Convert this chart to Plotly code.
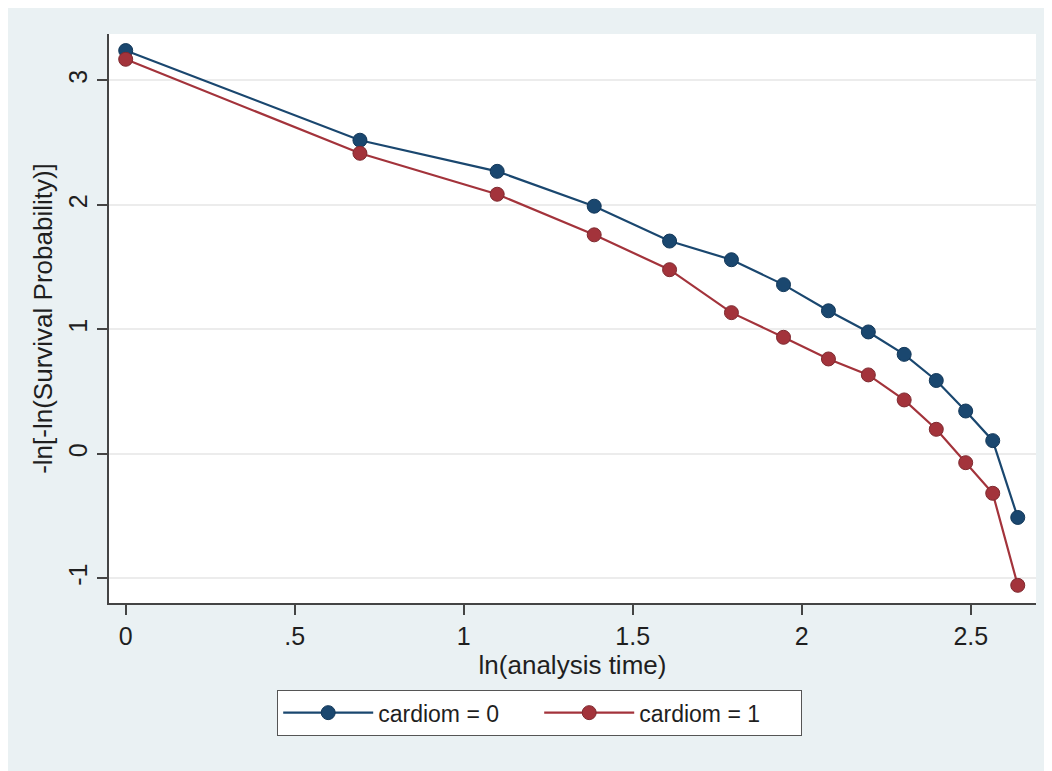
import plotly.graph_objects as go

ln_time = [0.0, 0.693, 1.099, 1.386, 1.609, 1.792, 1.946, 2.079, 2.197, 2.303, 2.398, 2.485, 2.565, 2.639]
cardiom0 = [3.24, 2.52, 2.27, 1.99, 1.71, 1.56, 1.36, 1.15, 0.98, 0.80, 0.59, 0.345, 0.107, -0.51]
cardiom1 = [3.17, 2.415, 2.086, 1.76, 1.48, 1.135, 0.937, 0.763, 0.635, 0.434, 0.198, -0.07, -0.316, -1.055]

series_names = ["cardiom = 0", "cardiom = 1"]
x_ticks = [0, 0.5, 1, 1.5, 2, 2.5]
x_ticklabels = ["0", ".5", "1", "1.5", "2", "2.5"]
y_ticks = [-1, 0, 1, 2, 3]
y_ticklabels = ["-1", "0", "1", "2", "3"]

navy = "#1a476f"
maroon = "#a3333b"
FONT = "Liberation Sans, Arial, sans-serif"
TXT = "#1f1f1f"

fig = go.Figure()
for ys, name, col, edge in [(cardiom0, series_names[0], navy, "#13385a"),
                            (cardiom1, series_names[1], maroon, "#7e2a30")]:
    fig.add_trace(go.Scatter(
        x=ln_time, y=ys, name=name, mode="lines+markers",
        line=dict(color=col, width=2.2),
        marker=dict(color=col, size=14, line=dict(color=edge, width=1)),
    ))

# figure is shown inside the page with an 8px body margin
W, H = 1044, 763
L, R, T, B = 101, 16, 26, 168
pw, ph = W - L - R, H - T - B

def px2paper_x(px):
    return (px - L) / pw

def px2paper_y(py):
    return (H - B - py) / ph

fig.update_layout(
    width=W, height=H,
    margin=dict(l=L, r=R, t=T, b=B, pad=0, autoexpand=False),
    paper_bgcolor="#eaf1f3",
    plot_bgcolor="white",
    font=dict(family=FONT, size=25, color=TXT),
    showlegend=True,
    legend=dict(
        orientation="h",
        x=px2paper_x(269), y=px2paper_y(682), xanchor="left", yanchor="top",
        bgcolor="white", bordercolor="#555555", borderwidth=1.2,
        font=dict(family=FONT, size=23, color=TXT),
        itemwidth=90, entrywidth=156, entrywidthmode="pixels",
        tracegroupgap=0, itemsizing="trace",
    ),
    xaxis=dict(
        range=[-0.0494, 2.693],
        tickvals=x_ticks, ticktext=x_ticklabels,
        ticks="outside", ticklen=10, tickwidth=1.5, tickcolor="#444",
        showline=True, linecolor="#444", linewidth=1.5,
        showgrid=False, zeroline=False,
        title=dict(text="ln(analysis time)", standoff=2, font=dict(size=26)),
        tickfont=dict(size=25),
    ),
    yaxis=dict(
        range=[-1.197, 3.373],
        tickvals=y_ticks, ticktext=y_ticklabels,
        tickangle=-90,
        ticks="outside", ticklen=10, tickwidth=1.5, tickcolor="#444",
        showline=True, linecolor="#444", linewidth=1.5,
        showgrid=True, gridcolor="#ececec", gridwidth=1.5,
        zeroline=False,
        title=dict(text="-ln[-ln(Survival Probability)]", standoff=4, font=dict(size=26)),
        tickfont=dict(size=25),
    ),
)

fig.write_html("out.html")
